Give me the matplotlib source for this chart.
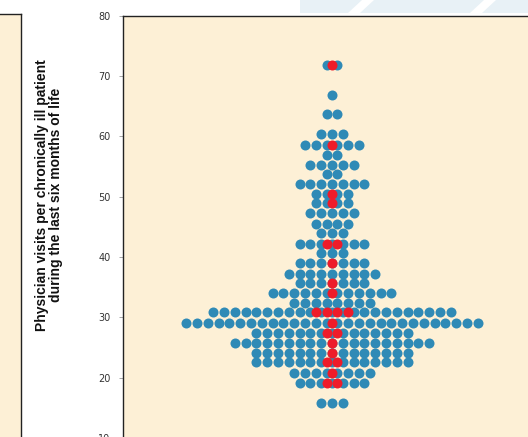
import numpy as np
import matplotlib
matplotlib.use("Agg")
import matplotlib.pyplot as plt
from matplotlib.patches import Polygon, Rectangle

# ---- data ----
row_values = [71.8, 66.9, 63.7, 60.4, 58.6, 56.9, 55.2, 53.7, 52.1, 50.4, 48.9, 47.3,
              45.5, 43.9, 42.1, 40.6, 39.0, 37.2, 35.6, 34.0, 32.3, 30.8, 29.1, 27.4,
              25.7, 24.1, 22.5, 20.8, 19.1, 15.7]
blue_counts = [2, 1, 2, 3, 6, 2, 5, 2, 7, 4, 4, 5, 4, 3, 7, 3, 7, 9, 7, 12, 8, 23, 28, 15,
               19, 15, 15, 8, 7, 3]
red_counts = [1, 0, 0, 0, 1, 0, 0, 0, 0, 1, 1, 0, 0, 0, 2, 0, 1, 0, 1, 1, 0, 4, 1, 2,
              1, 1, 2, 1, 2, 0]
y_ticks = [0, 10, 20, 30, 40, 50, 60, 70, 80]
y_label = "Physician visits per chronically ill patient\nduring the last six months of life"

blue_values = np.repeat(row_values, blue_counts)
red_values = np.repeat(row_values, red_counts)


def swarm_x(values):
    """Centre the points of each value in a row, one unit apart."""
    values = np.asarray(values)
    xs = np.zeros(len(values))
    for v in np.unique(values):
        idx = np.where(values == v)[0]
        n = len(idx)
        xs[idx] = np.arange(n) - (n - 1) / 2.0
    return xs


W, H = 528, 437
fig = plt.figure(figsize=(W / 100, H / 100), dpi=100)
fig.patch.set_facecolor("white")

cream = "#fdf0d6"
blue = "#2f8ab6"
red = "#ee1c2a"

# faint watermark band at the very top
band = fig.add_axes([0, 0, 1, 1], zorder=-5)
band.set_xlim(0, W)
band.set_ylim(H, 0)
band.axis("off")
band.add_patch(Rectangle((300, 0), 228, 13, color="#e8f1f6", lw=0))
for x0 in (348, 470):
    band.add_patch(Polygon([[x0, 13], [x0 + 12, 13], [x0 + 26, 0], [x0 + 14, 0]],
                           closed=True, color="white", lw=0))

# left neighbouring panel (cut off)
left = fig.add_axes([-0.2, -0.2, 0.2 + 21 / W, 0.2 + 1 - 14 / H])
left.set_facecolor(cream)
left.set_xticks([])
left.set_yticks([])
for s in left.spines.values():
    s.set_color("#222222")
    s.set_linewidth(1.0)

# main axes (extends beyond right and bottom edges like the crop)
px_x0, px_x1 = 123, 541
px_top = 15.7
px_per_unit_y = 6.03
ymin, ymax = 0, 80
px_bottom = px_top + (ymax - ymin) * px_per_unit_y
ax = fig.add_axes([px_x0 / W, 1 - px_bottom / H, (px_x1 - px_x0) / W, (px_bottom - px_top) / H])
ax.set_facecolor(cream)
ax.set_ylim(ymin, ymax)
half = (px_x1 - px_x0) / 2 / 10.8
ax.set_xlim(-half, half)

ax.scatter(swarm_x(blue_values), blue_values, s=52, color=blue, lw=0, zorder=3)
ax.scatter(swarm_x(red_values), red_values, s=52, color=red, lw=0, zorder=4)

ax.set_yticks(y_ticks)
ax.set_yticklabels([str(t) for t in y_ticks])
ax.set_xticks([])
ax.tick_params(axis="y", length=3, width=0.6, color="#999999", labelsize=7,
               labelcolor="#333333", pad=6)
for s in ax.spines.values():
    s.set_color("#222222")
    s.set_linewidth(1.0)

fig.text(49 / W, 1 - 195 / H, y_label, rotation=90, ha="center", va="center",
         multialignment="center", fontsize=10, fontweight="bold",
         family=["Liberation Sans Narrow", "Liberation Sans", "DejaVu Sans"],
         color="#111111", linespacing=1.05)

fig.savefig("out.png", dpi=100, facecolor="white")
